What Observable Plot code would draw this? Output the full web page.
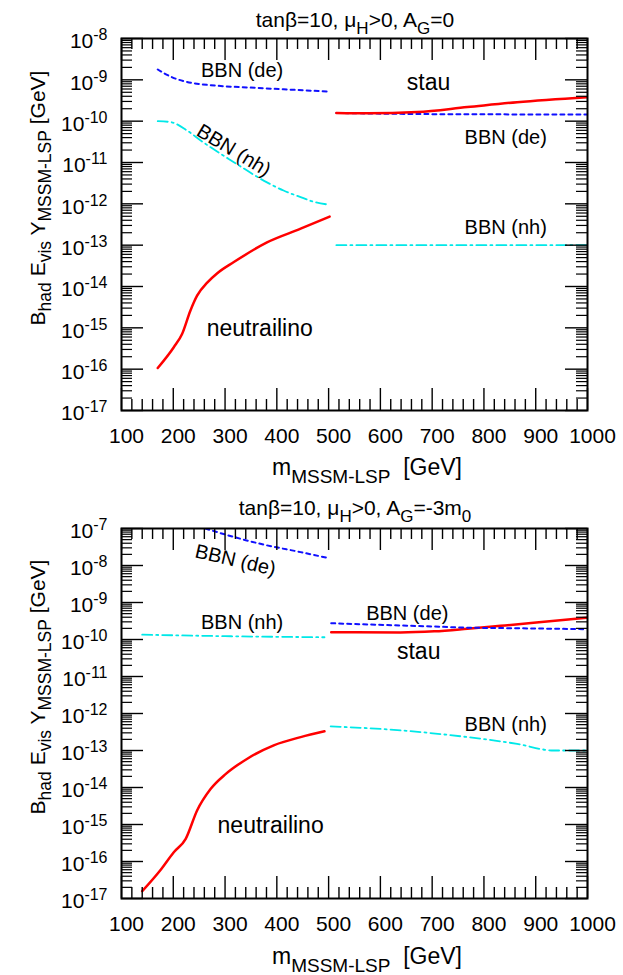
<!DOCTYPE html>
<html><head><meta charset="utf-8">
<script src="https://cdn.jsdelivr.net/npm/d3@7"></script>
<script src="https://cdn.jsdelivr.net/npm/@observablehq/plot@0.6"></script>
<style>
body{margin:0;background:#fff;}
svg{display:block;}
</style></head><body><div id="c"></div>
<script>
const FONT = '"Liberation Sans", Arial, Helvetica, sans-serif';

// ---------- Data: top panel (A_G = 0) ----------
const top_de_left_x = [170, 198, 220, 285, 349, 413, 502];
const top_de_left_y = [1.78e-9, 1.15e-9, 9.3e-10, 7.2e-10, 6.5e-10, 5.9e-10, 5.2e-10];
const top_nh_left_x = [170, 195, 227, 253, 317, 381, 413, 446, 471, 502];
const top_nh_left_y = [1.0e-10, 9.5e-11, 5.9e-11, 3.4e-11, 1.02e-11, 3.3e-12, 2.1e-12, 1.45e-12, 1.12e-12, 9.5e-13];
const top_neut_x = [170, 201, 217, 233, 246, 266, 285, 317, 381, 446, 502];
const top_neut_y = [1.07e-16, 3.4e-16, 7.1e-16, 2.6e-15, 6.0e-15, 1.26e-14, 2.1e-14, 3.9e-14, 1.17e-13, 2.5e-13, 4.9e-13];
const top_stau_x = [515, 575, 671, 768, 864, 999];
const top_stau_y = [1.58e-10, 1.55e-10, 1.66e-10, 2.19e-10, 2.88e-10, 3.8e-10];
const top_de_right_x = [515, 700, 1000];
const top_de_right_y = [1.58e-10, 1.48e-10, 1.45e-10];
const top_nh_right_x = [515, 1000];
const top_nh_right_y = [1.0e-13, 1.0e-13];

const top_label_text = ["BBN (de)", "stau", "BBN (nh)", "BBN (de)", "BBN (nh)", "neutrailino"];
const top_label_x = [333, 693, 317, 842, 842, 367];
const top_label_y = [1.7e-9, 8.7e-10, 1.95e-11, 4.1e-11, 2.7e-13, 9.5e-16];

// ---------- Data: bottom panel (A_G = -3 m0) ----------
const bot_de_left_x = [262, 317, 381, 446, 496];
const bot_de_left_y = [1.0e-7, 5.9e-8, 3.5e-8, 2.3e-8, 1.62e-8];
const bot_nh_left_x = [140, 300, 492];
const bot_nh_left_y = [1.35e-10, 1.23e-10, 1.15e-10];
const bot_neut_x = [140, 175, 201, 224, 246, 272, 301, 343, 394, 446, 492];
const bot_neut_y = [1.58e-17, 5.8e-17, 1.78e-16, 4.1e-16, 2.4e-15, 9.1e-15, 2.3e-14, 6.0e-14, 1.38e-13, 2.3e-13, 3.3e-13];
const bot_stau_x = [505, 639, 704, 768, 832, 896, 999];
const bot_stau_y = [1.58e-10, 1.55e-10, 1.66e-10, 1.95e-10, 2.34e-10, 2.82e-10, 3.9e-10];
const bot_de_right_x = [505, 703, 768, 832, 996];
const bot_de_right_y = [2.75e-10, 2.24e-10, 2.09e-10, 2.04e-10, 1.9e-10];
const bot_nh_right_x = [504, 639, 768, 864, 935, 999];
const bot_nh_right_y = [4.5e-13, 3.5e-13, 2.3e-13, 1.51e-13, 1.0e-13, 1.0e-13];

const bot_label_text = ["BBN (de)", "BBN (nh)", "BBN (de)", "stau", "neutrailino", "BBN (nh)"];
const bot_label_x = [320, 333, 652, 674, 388, 842];
const bot_label_y = [1.38e-8, 2.95e-10, 4.9e-10, 4.8e-11, 9.3e-16, 5.0e-13];

// ---------- Axis ticks ----------
const xMajor = [100, 200, 300, 400, 500, 600, 700, 800, 900, 1000];
const xMinor = d3.range(100, 1001, 20).filter(v => v % 100 !== 0);

function yTicks(lo, hi) {
  const major = [], minor = [];
  for (let e = lo; e <= hi; e++) {
    major.push(Math.pow(10, e));
    if (e < hi) for (let k = 2; k <= 9; k++) minor.push(k * Math.pow(10, e));
  }
  return {major, minor};
}

const RED = "#ff0000", BLUE = "#1010ff", CYAN = "#00e8e8";
function pts(xs, ys) { return xs.map((x, i) => ({x, y: ys[i]})); }

function richText(svg, x, y, parts, {anchor = "middle", rotate = 0, size = 21, sub = 17, shift = 7} = {}) {
  const t = d3.select(svg).append("text")
    .attr("transform", `translate(${x},${y}) rotate(${rotate})`)
    .attr("text-anchor", anchor)
    .attr("font-size", size)
    .attr("font-family", FONT)
    .attr("fill", "black")
    .style("white-space", "pre");
  let cur = 0;
  for (const [s, kind] of parts) {
    const target = kind === "sub" ? shift : kind === "sup" ? -shift : 0;
    t.append("tspan").attr("dy", target - cur).attr("font-size", kind ? sub : size).text(s);
    cur = target;
  }
}

function panel({height, marginTop, yLo, yHi, lines, labels, title, titleY, xlabY, ylabY}) {
  const marginBottom = 77, marginLeft = 121, marginRight = 36, width = 623;
  const plotW = width - marginLeft - marginRight;
  const plotH = height - marginTop - marginBottom;
  const yt = yTicks(yLo, yHi);
  const marks = [];
  for (const L of lines) {
    marks.push(Plot.line(pts(L.x, L.y), {x: "x", y: "y", stroke: L.stroke, strokeWidth: L.w,
      strokeDasharray: L.dash, curve: "monotone-x", clip: true}));
  }
  marks.push(Plot.text(labels, {x: "x", y: "y", text: "text", fontSize: "size",
    rotate: "rotate", textAnchor: "middle", lineAnchor: "middle", fill: "black"}));
  marks.push(
    Plot.tickX(xMajor, {x: d => d, insetTop: plotH - 22, strokeWidth: 1.4}),
    Plot.tickX(xMajor, {x: d => d, insetBottom: plotH - 22, strokeWidth: 1.4}),
    Plot.tickX(xMinor, {x: d => d, insetTop: plotH - 11, strokeWidth: 1.4}),
    Plot.tickX(xMinor, {x: d => d, insetBottom: plotH - 11, strokeWidth: 1.4}),
    Plot.tickY(yt.major, {y: d => d, insetRight: plotW - 22, strokeWidth: 1.4}),
    Plot.tickY(yt.major, {y: d => d, insetLeft: plotW - 22, strokeWidth: 1.4}),
    Plot.tickY(yt.minor, {y: d => d, insetRight: plotW - 11, strokeWidth: 1.2}),
    Plot.tickY(yt.minor, {y: d => d, insetLeft: plotW - 11, strokeWidth: 1.2}),
    Plot.axisX({ticks: xMajor, tickSize: 0, tickPadding: 18, dx: 5, label: null, fontSize: 21, tickFormat: d => String(d)}),
    Plot.axisY({ticks: yt.major, tickSize: 0, tickPadding: 14, dy: 3, label: null, fontSize: 21,
      tickFormat: d => "10^" + Math.round(Math.log10(d))}),
    Plot.frame({strokeWidth: 2})
  );
  const svg = Plot.plot({
    width, height, marginTop, marginBottom, marginLeft, marginRight,
    style: {fontFamily: FONT, fontSize: "21px", color: "black", background: "white"},
    x: {domain: [100, 1000]},
    y: {type: "log", domain: [Math.pow(10, yLo), Math.pow(10, yHi)]},
    marks
  });
  // superscript exponents on y tick labels
  d3.select(svg).selectAll('g[aria-label="y-axis tick label"] text').each(function() {
    const s = this.textContent;
    const [base, exp] = s.split("^");
    this.textContent = "";
    d3.select(this).append("tspan").text(base);
    d3.select(this).append("tspan").attr("dy", -8).attr("font-size", 16).text(exp);
  });
  richText(svg, 355, titleY, title, {size: 21, sub: 17, shift: 7});
  richText(svg, 367, xlabY, [["m", 0], ["MSSM-LSP", "sub"], ["  [GeV]", 0]], {size: 23, sub: 19, shift: 8});
  richText(svg, 45, ylabY, [["B", 0], ["had", "sub"], [" E", 0], ["vis", "sub"], [" Y", 0], ["MSSM-LSP", "sub"], [" [GeV]", 0]],
    {rotate: -90, size: 21, sub: 17.5, shift: 6});
  return svg;
}

function mkLabels(texts, xs, ys, rot, sizes) {
  return texts.map((t, i) => ({text: t, x: xs[i], y: ys[i], rotate: rot[i], size: sizes[i]}));
}

const topLines = [
  {x: top_de_left_x, y: top_de_left_y, stroke: BLUE, w: 2, dash: "4,4"},
  {x: top_nh_left_x, y: top_nh_left_y, stroke: CYAN, w: 1.8, dash: "10,4,2,4"},
  {x: top_neut_x, y: top_neut_y, stroke: RED, w: 2.5},
  {x: top_de_right_x, y: top_de_right_y, stroke: BLUE, w: 2, dash: "4,4"},
  {x: top_stau_x, y: top_stau_y, stroke: RED, w: 2.5},
  {x: top_nh_right_x, y: top_nh_right_y, stroke: CYAN, w: 1.8, dash: "10,4,2,4"}
];
const botLines = [
  {x: bot_de_left_x, y: bot_de_left_y, stroke: BLUE, w: 2, dash: "4,4"},
  {x: bot_nh_left_x, y: bot_nh_left_y, stroke: CYAN, w: 1.8, dash: "10,4,2,4"},
  {x: bot_neut_x, y: bot_neut_y, stroke: RED, w: 2.5},
  {x: bot_stau_x, y: bot_stau_y, stroke: RED, w: 2.5},
  {x: bot_de_right_x, y: bot_de_right_y, stroke: BLUE, w: 2, dash: "4,4"},
  {x: bot_nh_right_x, y: bot_nh_right_y, stroke: CYAN, w: 1.8, dash: "10,4,2,4"}
];

const c = document.getElementById("c");
c.appendChild(panel({
  height: 487, marginTop: 38, yLo: -17, yHi: -8, lines: topLines,
  labels: mkLabels(top_label_text, top_label_x, top_label_y, [0, 0, 31, 0, 0, 0], [20, 23, 20, 20, 20, 23]),
  title: [["tanβ=10, μ", 0], ["H", "sub"], [">0, A", 0], ["G", "sub"], ["=0", 0]],
  titleY: 27, xlabY: 475, ylabY: 198
}));
c.appendChild(panel({
  height: 488, marginTop: 41, yLo: -17, yHi: -7, lines: botLines,
  labels: mkLabels(bot_label_text, bot_label_x, bot_label_y, [13, 0, 0, 0, 0, 0], [20, 20, 20, 23, 23, 20]),
  title: [["tanβ=10, μ", 0], ["H", "sub"], [">0, A", 0], ["G", "sub"], ["=-3m", 0], ["0", "sub"]],
  titleY: 28, xlabY: 477, ylabY: 200
}));
</script></body></html>
